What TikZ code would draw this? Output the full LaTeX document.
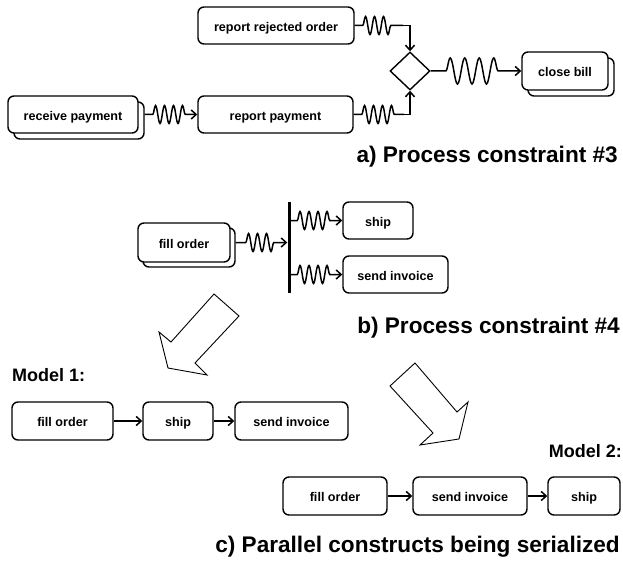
\documentclass[tikz,border=0pt]{standalone}
\usepackage{fontspec}
\setmainfont{Liberation Sans}
\usetikzlibrary{shapes.geometric,arrows.meta,decorations.pathmorphing,shadows,calc}
\begin{document}
\begin{tikzpicture}[x=1pt,y=-1pt,
  box/.style={draw, line width=1.4pt, rounded corners=6pt, fill=white, inner sep=0pt,
    minimum height=37pt, text height=11.8pt, text depth=0.2pt, font=\fontsize{12.6}{14}\selectfont\bfseries},
  stack/.style={copy shadow={shadow xshift=#1, shadow yshift=-#1, draw=black, fill=white, line width=1.4pt}},
  conn/.style={line width=1.5pt},
  arr/.style={-{Straight Barb[length=5pt,width=9pt,line width=1.5pt]}},
  squig/.style={decorate, decoration={snake, amplitude=9pt, segment length=9pt, pre length=#1, post length=9pt}},
  bigsquig/.style={decorate, decoration={snake, amplitude=13pt, segment length=14.5pt, pre length=15pt, post length=19pt}},
  title/.style={font=\fontsize{22.6}{26}\selectfont\bfseries, inner sep=0pt},
  mlabel/.style={font=\fontsize{18}{21}\selectfont\bfseries, inner sep=0pt},
  hollow/.style={draw, line width=0.9pt, line join=miter}
]
\useasboundingbox (0,0) rectangle (623,564);

% ---------- a) ----------
\node[box, minimum width=156pt] (rro) at (276,25.5) {report rejected order};
\node[box, minimum width=130pt, stack=6pt] (recv) at (73,114.5) {receive payment};
\node[box, minimum width=155pt] (rpay) at (275.5,114.5) {report payment};
\node[draw, diamond, line width=1.4pt, minimum width=40pt, minimum height=38pt, inner sep=0pt] (gw) at (410,71) {};
\node[box, minimum width=86pt, minimum height=38pt, stack=6pt] (close) at (565,71) {close bill};

\coordinate (k1) at (403,25.5);
\coordinate (k2) at (404,114.5);
\draw[conn, squig=8pt, arr] ([xshift=6pt]recv.east) -- (rpay.west);
\draw[conn, squig=8pt] (rro.east) -- (k1);
\draw[conn, arr] (k1) -| (gw.north);
\draw[conn, squig=8pt] (rpay.east) -- (k2);
\draw[conn, arr] (k2) -| (gw.south);
\draw[conn, bigsquig, arr] (gw.east) -- (close.west);

\node[title, anchor=base east] (ta) at (618,163) {a) Process constraint \#3};

% ---------- b) ----------
\node[box, minimum width=92pt, minimum height=39pt, stack=5pt] (fo) at (184,242.5) {fill order};
\node[fill=black, minimum width=3pt, minimum height=91pt, inner sep=0pt] (bar) at (289,247.5) {};
\node[box, minimum width=70pt] (ship) at (378,220.5) {ship};
\node[box, minimum width=105pt] (inv) at (395.5,274.5) {send invoice};

\draw[conn, squig=10pt, arr] ([xshift=5pt]fo.east) -- (bar.west |- fo.east);
\draw[conn, squig=6.5pt, arr] (bar.east |- ship.west) -- (ship.west);
\draw[conn, squig=6.5pt, arr] (bar.east |- inv.west) -- (inv.west);

\node[title, anchor=base east] (tb) at (620,333) {b) Process constraint \#4};

% hollow arrows
\draw[hollow] (214,294) -- (239,316) -- (195,363) -- (207,375) -- (168,368) -- (159,332) -- (171,342) -- cycle;
\draw[hollow] (415,363) -- (457,412) -- (468,402) -- (459,439) -- (420,445) -- (433,433) -- (390,386) -- cycle;

% ---------- c) ----------
\node[mlabel, anchor=base west] (m1) at (12,381) {Model 1:};
\node[box, minimum width=101pt, minimum height=38pt] (a1) at (62.5,421) {fill order};
\node[box, minimum width=70pt, minimum height=38pt] (a2) at (178,421) {ship};
\node[box, minimum width=113pt, minimum height=38pt] (a3) at (291.5,421) {send invoice};
\draw[conn, arr] (a1) -- (a2);
\draw[conn, arr] (a2) -- (a3);

\node[mlabel, anchor=base east] (m2) at (622,457) {Model 2:};
\node[box, minimum width=104pt, minimum height=38pt] (b1) at (335,496) {fill order};
\node[box, minimum width=114pt, minimum height=38pt] (b2) at (470,496) {send invoice};
\node[box, minimum width=72pt, minimum height=38pt] (b3) at (584,496) {ship};
\draw[conn, arr] (b1) -- (b2);
\draw[conn, arr] (b2) -- (b3);

\node[title, anchor=base east] (tc) at (620,552) {c) Parallel constructs being serialized};
\end{tikzpicture}
\end{document}
